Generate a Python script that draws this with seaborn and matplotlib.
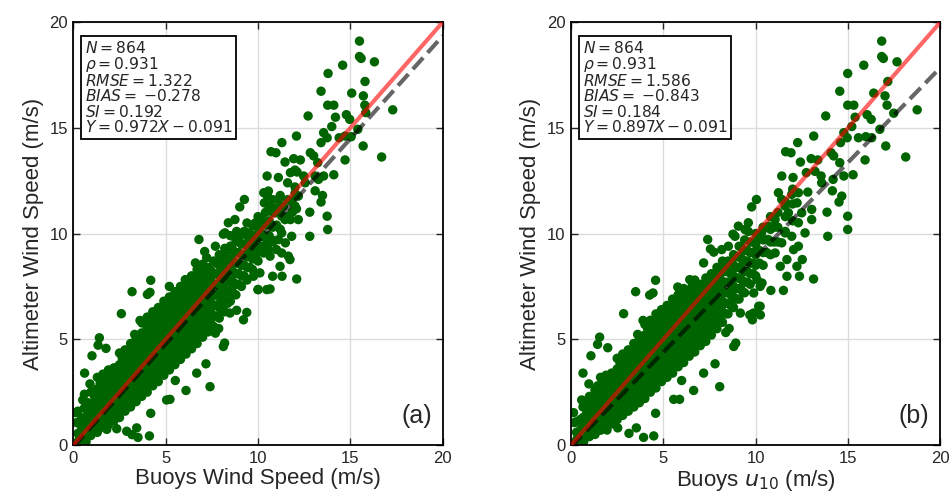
import numpy as np
import pandas as pd
import matplotlib
matplotlib.use("Agg")
import matplotlib.pyplot as plt
import seaborn as sns

# ---------------- data ----------------
ticks = [0, 5, 10, 15, 20]
panel_labels = ["(a)", "(b)"]
x_labels = ["Buoys Wind Speed (m/s)", "Buoys $u_{10}$ (m/s)"]
y_label = "Altimeter Wind Speed (m/s)"
stats_a = ["$N = 864$", r"$\rho = 0.931$", "$RMSE = 1.322$", "$BIAS = $ $-0.278$",
           "$SI = 0.192$", "$Y = 0.972X - 0.091$"]
stats_b = ["$N = 864$", r"$\rho = 0.931$", "$RMSE = 1.586$", "$BIAS = $ $-0.843$",
           "$SI = 0.184$", "$Y = 0.897X - 0.091$"]
fit_a = (0.972, -0.091)
fit_b = (0.897, -0.091)

# panel (a): scattered points
out_a_x = [15.49, 15.49, 15.58, 16.30, 14.58, 13.79, 15.79, 13.41, 15.07, 15.70,
           13.77, 14.10, 15.78, 17.29, 12.71, 14.19, 14.78, 14.96, 15.83, 13.99,
           15.40, 12.08, 13.55, 13.74, 13.41, 14.39, 14.71, 15.04, 15.69, 16.69,
           11.29, 10.70, 10.97, 12.83, 13.01, 13.23, 11.46, 11.93, 12.29, 14.71,
           14.10, 13.55, 10.49, 11.10, 11.75, 12.11, 12.47, 13.09, 13.27, 12.55,
           12.00, 13.09, 13.49, 13.41, 12.80, 13.74, 13.77, 12.80, 9.26, 9.01,
           10.31, 10.51, 11.10, 10.34, 10.65, 11.37, 11.82, 12.18, 10.92, 11.28,
           11.46, 11.86, 12.08, 12.18, 11.75, 11.28, 10.92, 11.82, 11.48, 10.20,
           10.49, 9.84, 9.48, 8.94, 8.57, 8.21, 8.39, 8.75, 11.28, 10.02,
           10.74, 10.38, 10.65, 10.00, 12.09, 11.30, 10.79, 11.19, 11.73, 10.65,
           11.00, 10.20, 10.56, 11.10, 11.64, 10.56,
           6.80, 8.12, 8.84, 7.69, 7.11, 7.22, 6.61, 6.06, 5.20, 4.19,
           4.15, 4.01, 3.18, 2.60, 3.61, 3.72, 3.32, 1.41, 1.34, 1.77,
           1.01, 0.61, 0.90, 0.51, 0.14, 0.54, 0.18, 0.32, 0.69, 3.43,
           3.18, 3.50, 4.12, 2.89, 2.35, 1.81, 4.19, 5.05, 5.23, 6.10,
           7.40, 5.52, 6.68, 7.18, 8.12, 8.19, 7.69, 7.87, 8.48, 8.84,
           9.39, 9.21, 10.00, 10.47, 9.75, 10.10, 10.29, 10.47]
out_a_y = [19.10, 18.37, 18.28, 18.12, 17.96, 17.57, 17.19, 16.73, 16.64, 16.51,
           16.07, 16.07, 16.07, 15.85, 15.56, 15.50, 15.62, 15.40, 15.72, 15.06,
           14.93, 14.61, 14.77, 14.53, 14.30, 14.53, 14.61, 14.58, 14.14, 13.62,
           14.30, 13.87, 13.82, 13.82, 13.67, 13.35, 13.38, 13.54, 13.48, 13.48,
           12.78, 12.72, 12.72, 12.65, 12.88, 12.91, 12.72, 12.72, 12.56, 12.40,
           11.90, 12.02, 11.80, 11.49, 11.01, 10.82, 10.19, 9.87, 11.61, 11.26,
           11.93, 11.77, 11.61, 11.45, 11.30, 11.30, 11.53, 11.77, 10.98, 10.82,
           10.66, 11.01, 11.17, 10.66, 10.66, 10.03, 10.35, 9.87, 9.56, 10.66,
           10.47, 10.35, 10.03, 9.72, 9.40, 10.03, 10.51, 10.66, 9.08, 9.24,
           9.71, 9.40, 7.38, 7.35, 7.85, 7.98, 7.98, 8.45, 8.77, 8.93,
           9.24, 9.87, 9.24, 9.71, 8.93, 12.01,
           9.72, 9.97, 10.10, 9.40, 9.15, 8.86, 8.61, 7.82, 7.50, 7.79,
           7.22, 7.12, 7.25, 6.21, 5.89, 5.77, 5.23, 5.07, 4.72, 4.57,
           4.22, 3.40, 2.89, 2.13, 1.53, 1.18, 1.06, 0.27, 0.16, 0.81,
           0.49, 0.36, 0.43, 0.65, 0.77, 0.74, 1.50, 2.13, 2.16, 2.58,
           2.76, 3.05, 3.40, 3.84, 4.66, 4.82, 5.29, 5.51, 6.24, 6.37,
           6.27, 5.92, 7.35, 7.35, 7.98, 8.14, 9.08, 9.72]

# panel (a): dense core, column x -> altimeter values
core_a = [
    (0.25, [0.15, 0.55, 1.05, 1.6]),
    (0.6, [0.35, 0.8, 1.3, 1.75, 2.4]),
    (0.95, [0.45, 1.0, 1.45, 1.95, 2.5]),
    (1.3, [0.6, 1.1, 1.65, 2.05, 2.65, 3.2]),
    (1.6, [0.85, 1.35, 1.8, 2.3, 2.75, 3.35]),
    (1.9, [0.95, 1.5, 2.0, 2.45, 2.95, 3.55]),
    (2.2, [1.15, 1.65, 2.15, 2.6, 3.1, 3.65]),
    (2.5, [1.3, 1.85, 2.3, 2.8, 3.25, 3.8, 4.35]),
    (2.8, [1.6, 2.1, 2.6, 3.05, 3.5, 4.05, 4.5]),
    (3.1, [1.8, 2.3, 2.8, 3.25, 3.7, 4.25, 4.8]),
    (3.4, [2.05, 2.6, 3.1, 3.5, 4.05, 4.5, 5.05]),
    (3.7, [2.3, 2.8, 3.3, 3.8, 4.3, 4.75, 5.3]),
    (4.0, [2.5, 3.05, 3.5, 4.0, 4.5, 5.0, 5.5, 6.05]),
    (4.3, [2.8, 3.3, 3.8, 4.3, 4.75, 5.25, 5.7, 6.3]),
    (4.6, [3.0, 3.5, 4.05, 4.5, 5.0, 5.5, 6.0, 6.5]),
    (4.9, [3.3, 3.8, 4.3, 4.8, 5.25, 5.7, 6.2, 6.8]),
    (5.2, [3.55, 4.05, 4.5, 5.0, 5.5, 6.0, 6.5, 7.0]),
    (5.5, [3.8, 4.3, 4.8, 5.3, 5.8, 6.25, 6.7, 7.25]),
    (5.8, [4.05, 4.5, 5.0, 5.5, 6.0, 6.5, 7.0, 7.5]),
    (6.1, [4.3, 4.8, 5.3, 5.8, 6.3, 6.8, 7.3, 7.8]),
    (6.4, [4.55, 5.05, 5.6, 6.1, 6.6, 7.05, 7.5, 8.0]),
    (6.7, [4.8, 5.3, 5.8, 6.3, 6.8, 7.3, 7.8, 8.3]),
    (7.0, [5.1, 5.6, 6.1, 6.6, 7.1, 7.6, 8.1, 8.55]),
    (7.3, [5.35, 5.9, 6.4, 6.9, 7.4, 7.9, 8.4]),
    (7.6, [5.6, 6.1, 6.6, 7.1, 7.6, 8.1, 8.7]),
    (7.9, [6.0, 6.5, 7.0, 7.5, 8.0, 8.5, 9.0]),
    (8.2, [6.3, 6.8, 7.3, 7.8, 8.3, 8.8, 9.3]),
    (8.5, [6.8, 7.3, 7.8, 8.3, 8.8, 9.4, 9.9]),
    (8.8, [7.1, 7.6, 8.1, 8.6, 9.1, 9.7]),
    (9.1, [7.5, 8.0, 8.5, 9.0, 9.5, 10.0]),
    (9.4, [7.8, 8.4, 8.9, 9.4, 9.9, 10.5]),
    (9.7, [8.3, 8.8, 9.3, 9.8, 10.4]),
    (10.0, [8.7, 9.3, 9.8, 10.3, 10.8]),
    (10.4, [9.2, 9.8, 10.4, 11.0]),
    (10.8, [9.6, 10.3, 11.0, 11.6]),
    (11.2, [10.2, 11.0, 11.8]),
    (11.6, [10.8, 11.6, 12.4]),
    (12.0, [11.3, 12.2, 13.0]),
]
core_a2 = [
    (0.45, [0.3, 0.75, 1.25]),
    (0.8, [0.55, 1.05, 1.55, 2.0]),
    (1.15, [0.8, 1.3, 1.8, 2.3]),
    (1.45, [0.9, 1.4, 1.9, 2.45, 2.9]),
    (1.75, [1.1, 1.6, 2.1, 2.6, 3.1]),
    (2.05, [1.3, 1.8, 2.3, 2.8, 3.3]),
    (2.35, [1.5, 2.0, 2.5, 3.0, 3.5]),
    (2.65, [1.7, 2.2, 2.7, 3.2, 3.7, 4.1]),
    (2.95, [1.95, 2.45, 2.9, 3.4, 3.9, 4.4]),
    (3.25, [2.2, 2.7, 3.2, 3.65, 4.1, 4.6]),
    (3.55, [2.4, 2.95, 3.45, 3.9, 4.4, 4.9]),
    (3.85, [2.65, 3.2, 3.7, 4.15, 4.65, 5.15]),
    (4.15, [2.9, 3.4, 3.9, 4.4, 4.9, 5.4, 5.85]),
    (4.45, [3.15, 3.65, 4.15, 4.65, 5.1, 5.6, 6.1]),
    (4.75, [3.4, 3.9, 4.4, 4.9, 5.35, 5.85, 6.35]),
    (5.05, [3.7, 4.2, 4.7, 5.2, 5.65, 6.1, 6.6]),
    (5.35, [3.9, 4.4, 4.9, 5.4, 5.9, 6.4, 6.9]),
    (5.65, [4.2, 4.7, 5.2, 5.7, 6.15, 6.6, 7.1]),
    (5.95, [4.45, 4.95, 5.45, 5.9, 6.4, 6.9, 7.35]),
    (6.25, [4.7, 5.2, 5.7, 6.2, 6.7, 7.15, 7.6]),
    (6.55, [4.95, 5.45, 5.95, 6.45, 6.95, 7.4, 7.9]),
    (6.85, [5.2, 5.7, 6.25, 6.75, 7.2, 7.7, 8.2]),
    (7.15, [5.5, 6.0, 6.5, 7.0, 7.5, 8.0]),
    (7.45, [5.75, 6.25, 6.75, 7.25, 7.75, 8.25]),
    (7.75, [6.1, 6.6, 7.1, 7.6, 8.1, 8.6]),
    (8.05, [6.4, 6.9, 7.4, 7.9, 8.4, 8.9]),
    (8.35, [6.7, 7.2, 7.7, 8.2, 8.7, 9.2]),
    (8.65, [7.2, 7.7, 8.2, 8.7, 9.2]),
    (8.95, [7.6, 8.1, 8.6, 9.1, 9.6]),
    (9.25, [8.0, 8.5, 9.0, 9.5, 10.1]),
    (9.55, [8.4, 9.0, 9.5, 10.0]),
    (9.85, [8.9, 9.4, 9.9, 10.5]),
    (10.2, [9.4, 10.0, 10.6]),
    (10.6, [9.9, 10.6, 11.2]),
    (11.0, [10.4, 11.2]),
]

# panel (b): scattered points
out_b_x = [16.82, 16.82, 16.91, 17.65, 15.85, 14.98, 17.15, 14.55, 16.39, 17.00,
           14.98, 15.31, 17.11, 18.74, 13.79, 15.38, 16.03, 16.25, 17.47, 15.20,
           16.72, 13.14, 14.77, 14.95, 14.59, 15.56, 15.96, 16.28, 17.04, 18.12,
           12.27, 11.62, 11.91, 14.08, 14.22, 14.55, 12.42, 13.00, 13.36, 15.92,
           15.27, 14.77, 11.41, 12.02, 12.74, 13.21, 13.54, 14.19, 13.57, 12.82,
           14.15, 14.66, 14.51, 13.86, 14.98, 14.98, 13.90, 10.04, 9.78,
           11.23, 11.41, 11.95, 12.31, 12.24, 11.59, 11.77, 12.49, 13.03, 13.03,
           12.31, 12.67, 11.95, 11.59, 11.05, 10.69, 10.32, 9.60, 9.42, 9.06,
           8.88, 8.52, 8.16, 10.69, 11.41, 12.31, 11.05, 9.96,
           13.13, 12.37, 11.50, 10.82, 11.69, 12.23, 12.52, 12.05, 11.69, 11.33,
           10.24, 10.24, 9.88, 10.07, 10.34, 9.89, 10.16,
           7.40, 8.77, 9.60, 7.55, 7.73, 7.18, 6.43, 5.78, 4.58, 4.44,
           4.26, 3.50, 2.85, 3.90, 4.04, 3.61, 1.55, 1.44, 1.99, 1.08,
           0.65, 0.97, 0.58, 0.14, 0.54, 0.18, 0.32, 0.69, 3.14, 3.54,
           3.93, 4.48, 2.53, 1.95, 4.58, 5.56, 5.88, 6.64, 8.05, 5.99,
           7.18, 7.80, 8.81, 8.92, 8.38, 8.56, 9.17, 9.68, 10.25, 9.82]
out_b_y = [19.10, 18.37, 18.28, 18.12, 17.96, 17.57, 17.19, 16.73, 16.64, 16.51,
           16.07, 16.07, 16.07, 15.85, 15.56, 15.50, 15.62, 15.40, 15.69, 15.06,
           14.93, 14.61, 14.77, 14.53, 14.30, 14.53, 14.58, 14.53, 14.14, 13.62,
           14.30, 13.87, 13.82, 13.82, 13.67, 13.35, 13.38, 13.54, 13.48, 13.48,
           12.78, 12.72, 12.72, 12.65, 12.88, 12.94, 12.72, 12.56, 12.40, 11.96,
           12.02, 11.77, 11.49, 11.01, 10.82, 10.19, 9.87, 11.61, 11.26,
           11.93, 11.61, 11.85, 11.93, 11.45, 11.30, 10.98, 10.98, 11.14, 10.66,
           10.51, 10.03, 9.87, 10.03, 10.66, 10.35, 10.03, 10.51, 10.19, 10.35,
           9.87, 9.40, 9.24, 9.71, 9.56, 9.40, 9.08, 9.08,
           7.85, 7.98, 7.31, 7.31, 7.98, 8.45, 8.77, 9.24, 8.77, 8.45,
           7.50, 6.56, 6.24, 7.82, 7.66, 7.19, 6.56,
           9.72, 9.97, 10.10, 9.27, 9.12, 8.61, 7.82, 7.47, 7.79, 7.19,
           7.09, 7.25, 6.21, 5.89, 5.77, 5.23, 5.10, 4.76, 4.60, 4.22,
           3.40, 2.89, 2.13, 1.53, 1.18, 1.06, 0.27, 0.16, 0.55, 0.81,
           0.36, 0.43, 0.81, 0.71, 1.50, 2.16, 2.16, 2.58, 2.76, 3.05,
           3.40, 3.84, 4.66, 4.82, 5.32, 5.51, 6.24, 6.15, 6.15, 5.92]

# panel (b): dense core, column x -> altimeter values
core_b = [
    (0.3, [0.2, 0.6, 1.1]),
    (0.65, [0.3, 0.8, 1.3, 1.8]),
    (1.0, [0.4, 0.9, 1.4, 1.9, 2.3]),
    (1.3, [0.5, 1.0, 1.5, 2.0, 2.6]),
    (1.6, [0.7, 1.2, 1.7, 2.1, 2.7, 3.2]),
    (1.9, [0.8, 1.3, 1.8, 2.3, 2.8, 3.3]),
    (2.2, [1.0, 1.5, 2.0, 2.4, 2.9, 3.4]),
    (2.5, [1.2, 1.7, 2.2, 2.6, 3.1, 3.6, 4.1]),
    (2.8, [1.4, 1.9, 2.4, 2.8, 3.3, 3.8, 4.3]),
    (3.1, [1.6, 2.1, 2.6, 3.0, 3.5, 4.0, 4.5]),
    (3.4, [1.8, 2.3, 2.8, 3.3, 3.8, 4.3, 4.8]),
    (3.7, [2.0, 2.5, 3.0, 3.5, 4.0, 4.5, 5.0]),
    (4.0, [2.2, 2.7, 3.2, 3.7, 4.2, 4.7, 5.2, 5.7]),
    (4.3, [2.5, 3.0, 3.5, 4.0, 4.4, 4.9, 5.4, 5.9]),
    (4.6, [2.7, 3.2, 3.7, 4.2, 4.7, 5.2, 5.7, 6.2]),
    (4.9, [3.0, 3.5, 4.0, 4.5, 4.9, 5.4, 5.9, 6.4]),
    (5.2, [3.2, 3.7, 4.2, 4.7, 5.2, 5.7, 6.2, 6.6]),
    (5.5, [3.4, 3.9, 4.4, 4.9, 5.4, 5.9, 6.4, 6.9]),
    (5.8, [3.7, 4.2, 4.7, 5.2, 5.6, 6.1, 6.6, 7.1]),
    (6.1, [3.9, 4.4, 4.9, 5.4, 5.9, 6.4, 6.9, 7.4]),
    (6.4, [4.2, 4.7, 5.2, 5.7, 6.2, 6.6, 7.1]),
    (6.7, [4.4, 4.9, 5.4, 5.9, 6.4, 6.9, 7.4, 7.8]),
    (7.0, [4.7, 5.2, 5.7, 6.2, 6.6, 7.1, 7.6]),
    (7.3, [4.9, 5.4, 5.9, 6.4, 6.9, 7.4, 7.9]),
    (7.6, [5.2, 5.7, 6.2, 6.7, 7.1, 7.6, 8.1]),
    (7.9, [5.5, 6.0, 6.5, 7.0, 7.4, 7.9, 8.4]),
    (8.2, [5.8, 6.3, 6.8, 7.3, 7.7, 8.2, 8.7]),
    (8.5, [6.2, 6.7, 7.2, 7.7, 8.2, 8.7]),
    (8.8, [6.5, 7.0, 7.5, 8.0, 8.5, 9.0]),
    (9.1, [6.9, 7.4, 7.9, 8.4, 8.9, 9.4]),
    (9.4, [7.2, 7.7, 8.2, 8.7, 9.2, 9.7]),
    (9.7, [7.6, 8.1, 8.6, 9.1, 9.6]),
    (10.0, [8.0, 8.5, 9.0, 9.5, 10.0]),
    (10.4, [8.5, 9.1, 9.7, 10.3]),
    (10.8, [9.0, 9.6, 10.2, 10.8]),
    (11.2, [9.6, 10.3, 11.0]),
    (11.6, [10.1, 10.8, 11.5]),
    (12.0, [10.6, 11.4, 12.1]),
]
core_b2 = [
    (0.5, [0.3, 0.7, 1.2]),
    (0.85, [0.5, 1.0, 1.5, 1.9]),
    (1.15, [0.7, 1.2, 1.7, 2.2]),
    (1.45, [0.8, 1.3, 1.8, 2.3, 2.8]),
    (1.75, [1.0, 1.5, 2.0, 2.5, 3.0]),
    (2.05, [1.1, 1.6, 2.1, 2.6, 3.1]),
    (2.35, [1.3, 1.8, 2.3, 2.8, 3.3]),
    (2.65, [1.5, 2.0, 2.5, 3.0, 3.5, 3.9]),
    (2.95, [1.7, 2.2, 2.7, 3.2, 3.7, 4.1]),
    (3.25, [1.9, 2.4, 2.9, 3.4, 3.9, 4.4]),
    (3.55, [2.1, 2.6, 3.1, 3.6, 4.1, 4.6]),
    (3.85, [2.3, 2.8, 3.3, 3.8, 4.3, 4.8]),
    (4.15, [2.6, 3.1, 3.6, 4.1, 4.6, 5.1, 5.5]),
    (4.45, [2.8, 3.3, 3.8, 4.3, 4.8, 5.3, 5.8]),
    (4.75, [3.0, 3.5, 4.0, 4.5, 5.0, 5.5, 6.0]),
    (5.05, [3.3, 3.8, 4.3, 4.8, 5.3, 5.8, 6.2]),
    (5.35, [3.5, 4.0, 4.5, 5.0, 5.5, 6.0, 6.5]),
    (5.65, [3.8, 4.3, 4.8, 5.3, 5.8, 6.3, 6.7]),
    (5.95, [4.0, 4.5, 5.0, 5.5, 6.0, 6.5, 7.0]),
    (6.25, [4.3, 4.8, 5.3, 5.8, 6.3, 6.8, 7.2]),
    (6.55, [4.5, 5.0, 5.5, 6.0, 6.5, 7.0, 7.5]),
    (6.85, [4.8, 5.3, 5.8, 6.3, 6.8, 7.3]),
    (7.15, [5.0, 5.5, 6.0, 6.5, 7.0, 7.5]),
    (7.45, [5.3, 5.8, 6.3, 6.8, 7.3, 7.8]),
    (7.75, [5.6, 6.1, 6.6, 7.1, 7.6, 8.0]),
    (8.05, [5.9, 6.4, 6.9, 7.4, 7.9, 8.3]),
    (8.35, [6.2, 6.7, 7.2, 7.7, 8.2, 8.6]),
    (8.65, [6.6, 7.1, 7.6, 8.1, 8.6]),
    (8.95, [6.9, 7.4, 7.9, 8.4, 8.9]),
    (9.25, [7.3, 7.8, 8.3, 8.8, 9.3]),
    (9.55, [7.7, 8.2, 8.7, 9.2]),
    (9.85, [8.1, 8.6, 9.1, 9.6]),
    (10.2, [8.6, 9.2, 9.8]),
    (10.6, [9.1, 9.7, 10.3]),
    (11.0, [9.6, 10.3]),
]


def build(out_x, out_y, *cores):
    xs = list(out_x)
    ys = list(out_y)
    for core in cores:
        for cx, cys in core:
            for cy in cys:
                xs.append(cx)
                ys.append(cy)
    return pd.DataFrame({"buoy": xs, "alt": ys})


df_a = build(out_a_x, out_a_y, core_a, core_a2)
df_b = build(out_b_x, out_b_y, core_b, core_b2)

# ---------------- plotting ----------------
sns.set_style("ticks")
plt.rcParams["font.family"] = ["Liberation Sans", "DejaVu Sans"]
plt.rcParams["mathtext.fontset"] = "dejavusans"

fig = plt.figure(figsize=(9.51, 4.97), dpi=100)
ax_a = fig.add_axes([0.0771, 0.1046, 0.3885, 0.851])
ax_b = fig.add_axes([0.6004, 0.1046, 0.3885, 0.851])

lims = np.array([ticks[0], ticks[-1]], dtype=float)

for ax, df, stats, fit, plab, xlab in [
    (ax_a, df_a, stats_a, fit_a, panel_labels[0], x_labels[0]),
    (ax_b, df_b, stats_b, fit_b, panel_labels[1], x_labels[1]),
]:
    ax.grid(True, color="#dcdcdc", lw=1.0, zorder=0)
    sns.scatterplot(data=df, x="buoy", y="alt", ax=ax, color="#006400",
                    s=46, edgecolor="none", linewidth=0, zorder=2)
    ax.plot(lims, fit[0] * lims + fit[1], color="black", alpha=0.6, lw=3,
            ls="--", zorder=3)
    ax.plot(lims, lims, color="red", alpha=0.6, lw=3, zorder=4)
    ax.set_xlim(lims)
    ax.set_ylim(lims)
    ax.set_xticks(ticks)
    ax.set_yticks(ticks)
    ax.tick_params(direction="in", top=True, right=True, length=5, width=1,
                   labelsize=12, pad=4)
    for sp in ax.spines.values():
        sp.set_linewidth(1.3)
        sp.set_color("black")
    ax.set_xlabel(xlab, fontsize=16, labelpad=2)
    ax.set_ylabel(y_label, fontsize=16, labelpad=4)
    ax.text(0.032, 0.957, "\n".join(stats), transform=ax.transAxes,
            fontsize=11.2, va="top", ha="left", zorder=6, linespacing=0.93,
            bbox=dict(boxstyle="square,pad=0.25", fc="white", ec="black", lw=1.3))
    ax.text(0.97, 0.04, plab, transform=ax.transAxes, fontsize=18,
            ha="right", va="bottom", zorder=6)
    ax.set_axisbelow(True)

fig.savefig("out.png", dpi=100)
